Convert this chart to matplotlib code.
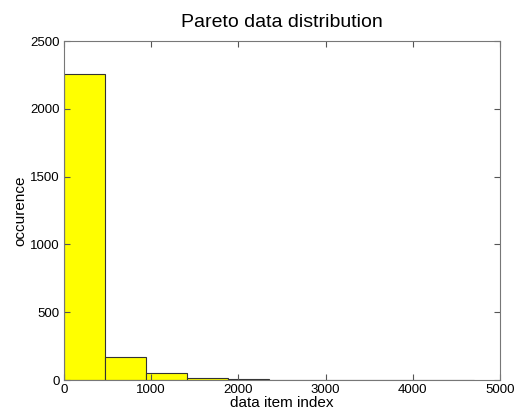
import matplotlib.pyplot as plt

# histogram of pareto samples, 10 bins
bin_edges = [0, 470, 940, 1410, 1880, 2350, 2820, 3290, 3760, 4230, 4700]
counts = [2257, 170, 52, 18, 4, 1, 0, 0, 0, 0]

x_ticks = [0, 1000, 2000, 3000, 4000, 5000]
y_ticks = [0, 500, 1000, 1500, 2000, 2500]

plt.rcParams['font.family'] = ['Liberation Sans', 'DejaVu Sans']

fig = plt.figure(figsize=(5.14, 4.15), dpi=100)
ax = fig.add_axes([0.1245, 0.0843, 0.8485, 0.8167])

widths = [bin_edges[i + 1] - bin_edges[i] for i in range(len(counts))]
ax.bar(bin_edges[:-1], counts, width=widths, align='edge',
       color='#ffff00', edgecolor='#333333', linewidth=0.8)

ax.set_xlim(0, 5000)
ax.set_ylim(0, 2500)
ax.set_xticks(x_ticks)
ax.set_yticks(y_ticks)
ax.tick_params(direction='in', top=True, right=True, labelsize=9.5, length=4,
               color='#555555', pad=3)
for s in ax.spines.values():
    s.set_color('#777777')

ax.set_title("Pareto data distribution", fontsize=14, pad=10)
ax.set_xlabel("data item index", fontsize=11, labelpad=0)
ax.set_ylabel("occurence", fontsize=11, labelpad=2)

fig.savefig("out.png", dpi=100)
